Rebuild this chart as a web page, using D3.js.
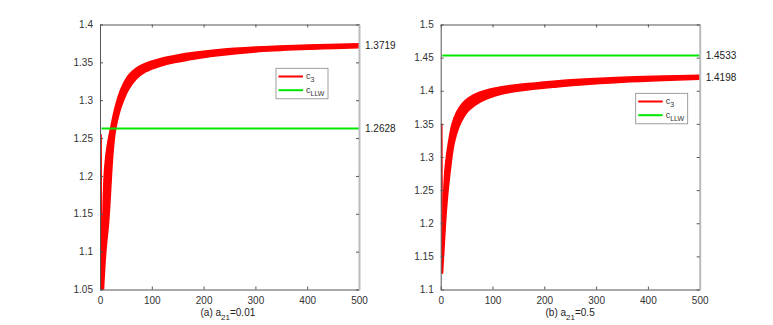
<!DOCTYPE html>
<html>
<head>
<meta charset="utf-8">
<script src="https://cdn.jsdelivr.net/npm/d3@7"></script>
<style>
  body { margin: 0; background: #fff; }
  text { font-family: "Liberation Sans", Arial, Helvetica, sans-serif; }
</style>
</head>
<body>
<div id="chart"></div>
<script>
// x ticks shared by both panels
const xTicks = [0, 100, 200, 300, 400, 500];

// panel (a): a21 = 0.01
const aYTicks = [1.05, 1.1, 1.15, 1.2, 1.25, 1.3, 1.35, 1.4];
const aSpike = [[2, 1.255], [3, 1.05]];
const aUpper = [[3, 1.05], [6, 1.16], [9, 1.21], [14, 1.24], [21, 1.265], [29, 1.29], [40, 1.314],
  [55, 1.333], [70, 1.3425], [87, 1.3487], [119, 1.3555], [150, 1.3598], [183, 1.3632],
  [222, 1.3663], [300, 1.3702], [400, 1.3728], [500, 1.3745]];
const aLower = [[6, 1.04], [11, 1.098], [17, 1.142], [25, 1.23], [30, 1.261], [38, 1.285], [45, 1.299],
  [55, 1.314], [70, 1.328], [87, 1.337], [119, 1.3455], [150, 1.3505], [183, 1.3545],
  [222, 1.3584], [300, 1.3638], [400, 1.3672], [500, 1.3693]];
const aLLW = 1.2628;
const aLabels = ["1.3719", "1.2628"];
const aLabelVals = [1.3719, 1.2628];

// panel (b): a21 = 0.5
const bYTicks = [1.1, 1.15, 1.2, 1.25, 1.3, 1.35, 1.4, 1.45, 1.5];
const bSpike = [[2, 1.35], [3, 1.125]];
const bUpper = [[3, 1.125], [4, 1.17], [6, 1.25], [9, 1.287], [15, 1.322], [22, 1.35], [31, 1.368],
  [42, 1.381], [53, 1.389], [76, 1.398], [118, 1.406], [182, 1.4118], [217, 1.4143],
  [269, 1.4172], [350, 1.4203], [430, 1.4222], [500, 1.4235]];
const bLower = [[3.5, 1.1245], [7, 1.17], [11, 1.22], [17, 1.27], [26, 1.321], [35, 1.345], [46, 1.362],
  [55, 1.371], [76, 1.383], [118, 1.395], [182, 1.4025], [217, 1.4052], [269, 1.4088],
  [350, 1.4128], [430, 1.4155], [500, 1.4172]];
const bLLW = 1.4533;
const bLabels = ["1.4533", "1.4198"];
const bLabelVals = [1.4533, 1.4198];

const width = 773, height = 325;
const svg = d3.select('#chart').append('svg')
  .attr('width', width)
  .attr('height', height);

function panel(cfg) {
  const x = d3.scaleLinear().domain([0, 500]).range([cfg.left, cfg.right]);
  const y = d3.scaleLinear().domain(cfg.yDomain).range([289.5, 24.5]);
  const g = svg.append('g');

  g.append('clipPath').attr('id', cfg.id)
    .append('rect')
    .attr('x', cfg.left).attr('y', 24.5)
    .attr('width', cfg.right - cfg.left).attr('height', 265);

  // red band (c3): smooth upper edge, then smooth lower edge back
  const line = d3.line().x(d => x(d[0])).y(d => y(d[1])).curve(d3.curveCatmullRom.alpha(0.5));
  const bandPath = line(cfg.upper) + line(cfg.lower.slice().reverse()).replace('M', 'L') + 'Z';
  g.append('path')
    .attr('clip-path', `url(#${cfg.id})`)
    .attr('d', bandPath)
    .attr('fill', '#ff0000')
    .attr('stroke', '#ff0000')
    .attr('stroke-width', 1.5)
    .attr('stroke-linejoin', 'round');

  g.append('path')
    .attr('clip-path', `url(#${cfg.id})`)
    .attr('d', d3.line().x(d => x(d[0])).y(d => y(d[1]))(cfg.spike))
    .attr('fill', 'none')
    .attr('stroke', '#ff0000')
    .attr('stroke-width', 1.6);

  // green line (cLLW)
  g.append('line')
    .attr('x1', x(3)).attr('x2', x(500))
    .attr('y1', y(cfg.llw)).attr('y2', y(cfg.llw))
    .attr('stroke', '#00e600')
    .attr('stroke-width', 2);

  // axes
  const ax = g.append('g').attr('color', '#555');
  ax.append('g')
    .attr('transform', `translate(0,289.5)`)
    .call(d3.axisBottom(x).tickValues(xTicks).tickSizeInner(-3).tickSizeOuter(0).tickPadding(7))
    .call(s => s.selectAll('text').attr('font-size', 10).attr('fill', '#333'));
  ax.append('g')
    .attr('transform', `translate(0,24.5)`)
    .call(d3.axisTop(x).tickValues(xTicks).tickSizeInner(-3).tickSizeOuter(0).tickFormat(''));
  ax.append('g')
    .attr('transform', `translate(${cfg.left},0)`)
    .call(d3.axisLeft(y).tickValues(cfg.yTicks).tickSizeInner(-3).tickSizeOuter(0).tickPadding(7)
      .tickFormat(d3.format('~g')))
    .call(s => s.selectAll('text').attr('font-size', 10).attr('fill', '#333'));
  const rax = ax.append('g')
    .attr('transform', `translate(${cfg.right},0)`)
    .call(d3.axisRight(y).tickValues(cfg.yTicks).tickSizeInner(-3).tickSizeOuter(0).tickFormat(''));
  rax.select('.domain').attr('stroke', '#bbb').attr('stroke-width', 2);

  // value labels at the right
  cfg.labels.forEach((t, i) => {
    g.append('text')
      .attr('x', cfg.right + 6)
      .attr('y', y(cfg.labelVals[i]))
      .attr('dy', '0.35em')
      .attr('font-size', 10)
      .attr('fill', '#222')
      .text(t);
  });

  // legend
  const lg = g.append('g').attr('transform', `translate(${cfg.legend[0]},${cfg.legend[1]})`);
  lg.append('rect')
    .attr('x', 0.5).attr('y', 0.5).attr('width', 52).attr('height', 30.5)
    .attr('fill', '#fff').attr('stroke', '#888').attr('stroke-width', 0.8);
  [['#ff0000', '3'], ['#00e600', 'LLW']].forEach((it, i) => {
    const yy = 8.7 + i * 13.7;
    lg.append('line')
      .attr('x1', 3).attr('x2', 27.5).attr('y1', yy).attr('y2', yy)
      .attr('stroke', it[0]).attr('stroke-width', 2);
    const t = lg.append('text')
      .attr('x', 30.5).attr('y', yy + 2.5)
      .attr('font-size', 9).attr('fill', '#333');
    t.append('tspan').text('c');
    t.append('tspan').attr('font-size', 7).attr('dy', 3).text(it[1]);
  });

  // caption
  const cap = g.append('text')
    .attr('x', cfg.captionX).attr('y', 316)
    .attr('font-size', 10).attr('fill', '#222');
  cap.append('tspan').text(cfg.caption[0]);
  cap.append('tspan').attr('font-size', 8).attr('dy', 3.5).text('21');
  cap.append('tspan').attr('dy', -3.5).text(cfg.caption[1]);
}

panel({
  id: 'clipA', left: 100, right: 359, yDomain: [1.05, 1.4], yTicks: aYTicks,
  spike: aSpike, upper: aUpper, lower: aLower, llw: aLLW,
  labels: aLabels, labelVals: aLabelVals, legend: [275.5, 67.8],
  captionX: 200.5, caption: ['(a) a', '=0.01']
});
panel({
  id: 'clipB', left: 440.7, right: 699.7, yDomain: [1.1, 1.5], yTicks: bYTicks,
  spike: bSpike, upper: bUpper, lower: bLower, llw: bLLW,
  labels: bLabels, labelVals: bLabelVals, legend: [635.2, 92.8],
  captionX: 545.5, caption: ['(b) a', '=0.5']
});
</script>
</body>
</html>
